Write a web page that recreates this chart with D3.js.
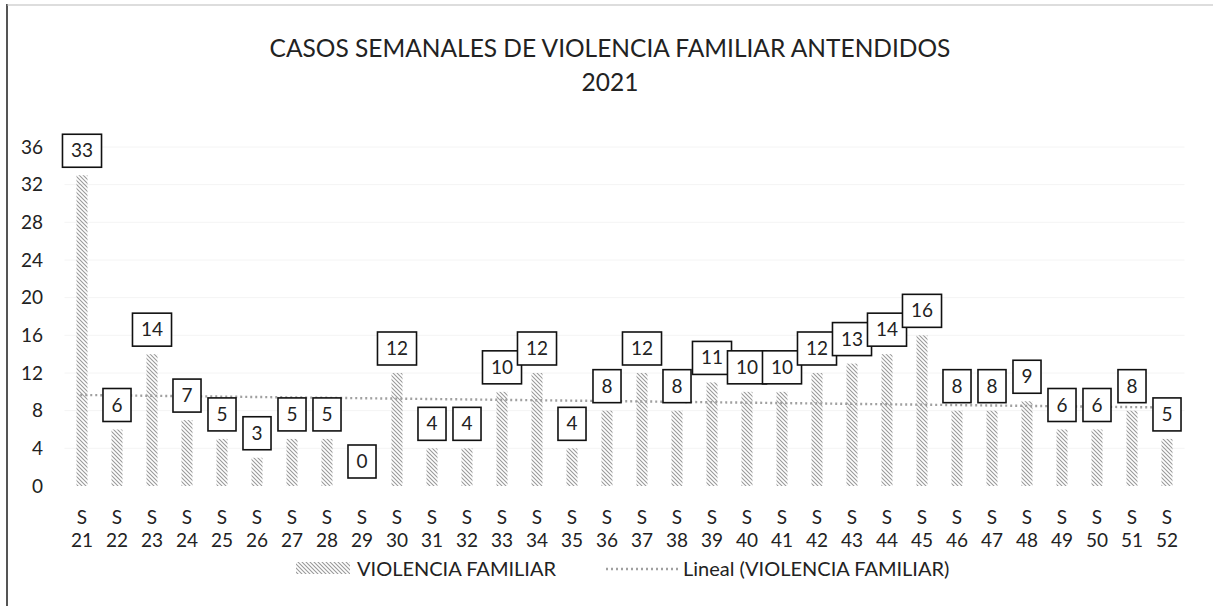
<!DOCTYPE html>
<html>
<head>
<meta charset="utf-8">
<script src="https://cdn.jsdelivr.net/npm/d3@7"></script>
<style>
  html, body { margin: 0; padding: 0; background: #fff; }
  svg text { font-family: Lato, "Open Sans", "Liberation Sans", sans-serif; fill: #222; }
</style>
</head>
<body>
<svg id="chart" width="1213" height="606"></svg>
<script>
// Weekly cases, epidemiological weeks 21–52 of 2021
const weeks = [21,22,23,24,25,26,27,28,29,30,31,32,33,34,35,36,37,38,39,40,41,42,43,44,45,46,47,48,49,50,51,52];
const cases = [33,6,14,7,5,3,5,5,0,12,4,4,10,12,4,8,12,8,11,10,10,12,13,14,16,8,8,9,6,6,8,5];
const yTicks = [0,4,8,12,16,20,24,28,32,36];
const titleLines = ["CASOS SEMANALES DE VIOLENCIA FAMILIAR ANTENDIDOS", "2021"];
const seriesName = "VIOLENCIA FAMILIAR";
const trendName = "Lineal (VIOLENCIA FAMILIAR)";

const svg = d3.select("#chart");
const plot = { left: 64.5, right: 1184.5, top: 147, bottom: 486 };

// hatch fill for the bars
const defs = svg.append("defs");
const pat = defs.append("pattern")
  .attr("id", "hatch").attr("patternUnits", "userSpaceOnUse")
  .attr("width", 4).attr("height", 4);
pat.append("path").attr("d", "M-1,-1 L5,5 M-1,3 L1,5 M3,-1 L5,1")
  .attr("stroke", "#9a9a9a").attr("stroke-width", 1.1);

// chart frame
svg.append("line").attr("x1", 7).attr("x2", 7).attr("y1", 4).attr("y2", 606)
  .attr("stroke", "#555").attr("stroke-width", 2);
svg.append("line").attr("x1", 7).attr("x2", 1213).attr("y1", 5).attr("y2", 5)
  .attr("stroke", "#bbb").attr("stroke-width", 1);

const x = d3.scaleBand().domain(weeks).range([plot.left, plot.right]).paddingInner(0).paddingOuter(0);
const y = d3.scaleLinear().domain([0, 36]).range([plot.bottom, plot.top]);

// faint gridlines
svg.append("g").selectAll("line").data(yTicks.filter(d => d > 0)).join("line")
  .attr("x1", plot.left).attr("x2", plot.right)
  .attr("y1", d => y(d)).attr("y2", d => y(d))
  .attr("stroke", "#f4f4f4").attr("stroke-width", 1);

// y axis labels
const yAxis = d3.axisLeft(y).tickValues(yTicks).tickSize(0).tickPadding(0);
svg.append("g").attr("transform", "translate(43,0)").call(yAxis)
  .call(g => g.select(".domain").remove())
  .call(g => g.selectAll("text").attr("font-size", 19).attr("fill", "#222")
    .style("font-family", "Lato, 'Open Sans', sans-serif"));

// x axis labels: "S" over the week number
const xg = svg.append("g");
const xl = xg.selectAll("text").data(weeks).join("text")
  .attr("text-anchor", "middle").attr("font-size", 19)
  .attr("x", d => x(d) + x.bandwidth() / 2);
xl.append("tspan").attr("x", d => x(d) + x.bandwidth() / 2).attr("y", 524).text("S");
xl.append("tspan").attr("x", d => x(d) + x.bandwidth() / 2).attr("y", 547).text(d => d);

// bars
const barW = 11;
const data = weeks.map((w, i) => ({ week: w, value: cases[i] }));
svg.append("g").selectAll("rect").data(data).join("rect")
  .attr("x", d => x(d.week) + x.bandwidth() / 2 - barW / 2)
  .attr("width", barW)
  .attr("y", d => y(d.value))
  .attr("height", d => y(0) - y(d.value))
  .attr("fill", "url(#hatch)");

// linear trend (least squares over week index)
const n = cases.length;
const idx = d3.range(1, n + 1);
const mx = d3.mean(idx), my = d3.mean(cases);
const slope = d3.sum(idx, (t, i) => (t - mx) * (cases[i] - my)) / d3.sum(idx, t => (t - mx) ** 2);
const icpt = my - slope * mx;
const xIdx = d3.scaleLinear().domain([1, n]).range([x(weeks[0]) + x.bandwidth() / 2, x(weeks[n - 1]) + x.bandwidth() / 2]);
svg.append("line")
  .attr("x1", xIdx(0.95)).attr("x2", xIdx(n + 0.4))
  .attr("y1", y(icpt + slope * 0.95)).attr("y2", y(icpt + slope * (n + 0.4)))
  .attr("stroke", "#a0a0a0").attr("stroke-width", 2.4).attr("stroke-dasharray", "2,3");

// boxed value labels
const lab = svg.append("g").selectAll("g").data(data).join("g")
  .attr("transform", d => `translate(${x(d.week) + x.bandwidth() / 2},${y(d.value) - 8})`);
lab.append("text").attr("text-anchor", "middle").attr("font-size", 19)
  .attr("y", -10).text(d => d.value);
lab.each(function() {
  const g = d3.select(this);
  const t = g.select("text");
  const w = t.node().getComputedTextLength() + 17;
  g.insert("rect", "text").attr("x", -w / 2).attr("y", -33).attr("width", w).attr("height", 33)
    .attr("fill", "#fff").attr("stroke", "#111").attr("stroke-width", 1.6);
});

// title
svg.append("text").attr("x", 610).attr("y", 57).attr("text-anchor", "middle")
  .attr("font-size", 24.5).text(titleLines[0]);
svg.append("text").attr("x", 610).attr("y", 91).attr("text-anchor", "middle")
  .attr("font-size", 24.5).text(titleLines[1]);

// legend
const lg = svg.append("g");
lg.append("rect").attr("x", 296).attr("y", 562).attr("width", 54).attr("height", 12).attr("fill", "url(#hatch)");
lg.append("text").attr("x", 357).attr("y", 576).attr("font-size", 20).text(seriesName);
lg.append("line").attr("x1", 606).attr("x2", 678).attr("y1", 569).attr("y2", 569)
  .attr("stroke", "#a0a0a0").attr("stroke-width", 2.4).attr("stroke-dasharray", "2,3");
lg.append("text").attr("x", 683).attr("y", 576).attr("font-size", 20).text(trendName);
</script>
</body>
</html>
